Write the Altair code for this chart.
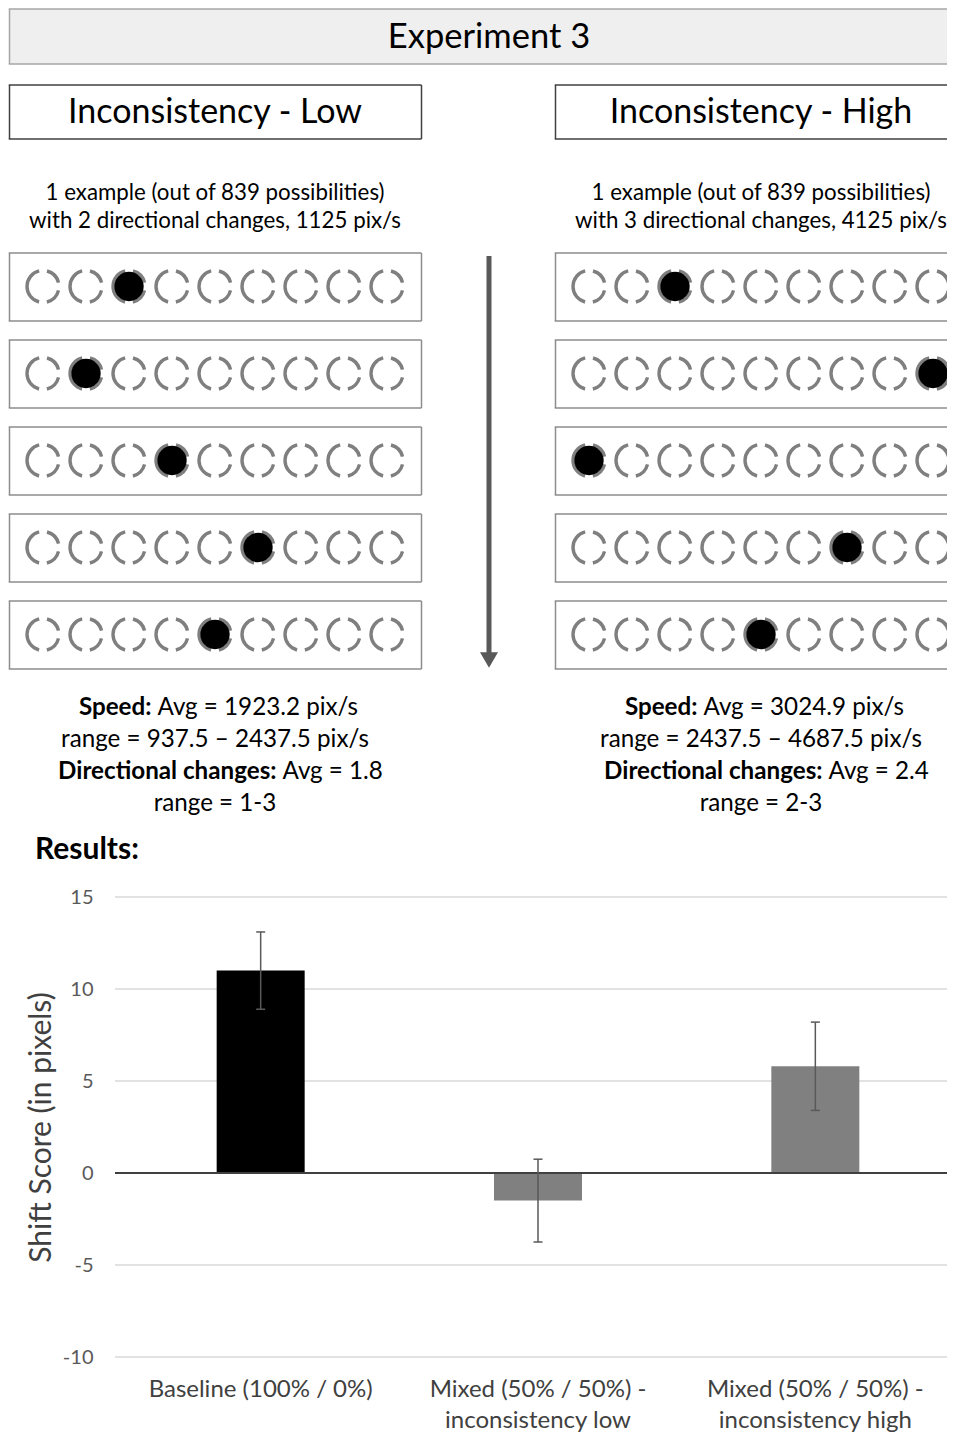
import altair as alt
import pandas as pd

# ---------------- data ----------------
header_text = "Experiment 3"
condition_titles = ["Inconsistency - Low", "Inconsistency - High"]
example_line1 = ["1 example (out of 839 possibilities)", "1 example (out of 839 possibilities)"]
example_line2 = ["with 2 directional changes, 1125 pix/s", "with 3 directional changes, 4125 pix/s"]
n_slots = 9
dot_slot_low = [2, 1, 3, 5, 4]
dot_slot_high = [2, 8, 0, 6, 4]
speed_label = "Speed:"
dir_label = "Directional changes:"
speed_avg = ["Avg = 1923.2 pix/s", "Avg = 3024.9 pix/s"]
speed_range = ["range = 937.5 \u2013 2437.5 pix/s", "range = 2437.5 \u2013 4687.5 pix/s"]
dir_avg = ["Avg = 1.8", "Avg = 2.4"]
dir_range = ["range = 1-3", "range = 2-3"]
results_label = "Results:"

categories = [
    "Baseline (100% / 0%)",
    "Mixed (50% / 50%) - inconsistency low",
    "Mixed (50% / 50%) - inconsistency high",
]
shift_mean = [11.0, -1.5, 5.8]
shift_err = [2.1, 2.25, 2.4]
bar_colors = ["#000000", "#808080", "#808080"]
y_ticks = [-10, -5, 0, 5, 10, 15]

# ---------------- layout (diagram canvas units) ----------------
FONT = "Lato"
X0, X1 = 116, 948
Y0, Y1 = 8, 878
W = X1 - X0
H_TOP = Y1 - Y0
xs = alt.Scale(domain=[X0, X1], nice=False, zero=False)
ys = alt.Scale(domain=[Y0, Y1], nice=False, zero=False, reverse=True)

panel_left = [10.5, 556.5]
panel_right = [422.5, X1]
panel_has_right = [True, False]
panel_center = [216, 762]
slot_first = [44, 590]
slot_step = 43
row_top0, row_h, row_step = 252, 68, 87
dot_slots = [dot_slot_low, dot_slot_high]

fills, borders = [], []
def add_box(x1, x2, y1, y2, fill, stroke, right=True, sw=1.5):
    fills.append(dict(x=x1, x2=x2, y=y1, y2=y2, fill=fill))
    borders.append(dict(x=x1 - sw / 2, x2=x2, y=y1, y2=y1, c=stroke, sw=sw))
    borders.append(dict(x=x1 - sw / 2, x2=x2, y=y2, y2=y2, c=stroke, sw=sw))
    borders.append(dict(x=x1, x2=x1, y=y1, y2=y2, c=stroke, sw=sw))
    if right:
        borders.append(dict(x=x2, x2=x2, y=y1, y2=y2, c=stroke, sw=sw))

add_box(10.5, X1, 8, 63, "#efefef", "#a6a6a6", right=False)
for p in range(2):
    add_box(panel_left[p], panel_right[p], 84, 138, "#ffffff", "#404040", right=panel_has_right[p])
    for r in range(5):
        yt = row_top0 + r * row_step
        add_box(panel_left[p], panel_right[p], yt, yt + row_h, "#ffffff", "#8c8c8c", right=panel_has_right[p])

circ, dots = [], []
for p in range(2):
    for r in range(5):
        yc = row_top0 + r * row_step + row_h / 2 - 0.5
        for s in range(n_slots):
            circ.append(dict(x=slot_first[p] + s * slot_step, y=yc, panel=p))
        dots.append(dict(x=slot_first[p] + dot_slots[p][r] * slot_step, y=yc, panel=p))
df_circ = pd.DataFrame(circ)
df_dots = pd.DataFrame(dots)

X = lambda f: alt.X(f, type="quantitative", scale=xs, axis=None)
Y = lambda f: alt.Y(f, type="quantitative", scale=ys, axis=None)

fill_layer = alt.Chart(pd.DataFrame(fills)).mark_rect().encode(
    x=X("x"), x2="x2", y=Y("y"), y2="y2", color=alt.Color("fill:N", scale=None)
)
border_layer = alt.Chart(pd.DataFrame(borders)).mark_rule(strokeCap="butt").encode(
    x=X("x"), x2="x2", y=Y("y"), y2="y2",
    color=alt.Color("c:N", scale=None),
    strokeWidth=alt.StrokeWidth("sw:Q", scale=None),
)

def circles(df, clip):
    return alt.Chart(df).mark_point(
        shape="circle", filled=False, size=1024, strokeWidth=3.4, color="#7f7f7f",
        opacity=1, strokeDash=[17, 8, 42, 8, 17, 8], strokeDashOffset=96, clip=clip,
    ).encode(x=X("x"), y=Y("y"))

def filled_dots(df, clip):
    return alt.Chart(df).mark_point(
        shape="circle", filled=True, size=860, color="#000000", opacity=1, clip=clip,
    ).encode(x=X("x"), y=Y("y"))

circ_left = circles(df_circ[df_circ.panel == 0], False)
circ_right = circles(df_circ[df_circ.panel == 1], True)
dot_left = filled_dots(df_dots[df_dots.panel == 0], False)
dot_right = filled_dots(df_dots[df_dots.panel == 1], True)

arrow_shaft = alt.Chart(pd.DataFrame([dict(x=490, y=255, y2=652)])).mark_rule(
    color="#595959", strokeWidth=5
).encode(x=X("x"), y=Y("y"), y2="y2")
arrow_head = alt.Chart(pd.DataFrame([dict(x=490, y=659)])).mark_point(
    shape="triangle-down", filled=True, size=324, color="#595959", opacity=1
).encode(x=X("x"), y=Y("y"))

def text_layer(rows, size, weight="normal", align="center", color="#000000"):
    return alt.Chart(pd.DataFrame(rows)).mark_text(
        font=FONT, fontSize=size, fontWeight=weight, align=align, baseline="middle", color=color
    ).encode(x=X("x"), y=Y("y"), text="t:N")

t_header = text_layer([dict(x=490, y=37, t=header_text)], 34.5)
t_cond = text_layer([dict(x=panel_center[p], y=112, t=condition_titles[p]) for p in range(2)], 34)
t_desc = text_layer(
    [dict(x=panel_center[p], y=192, t=example_line1[p]) for p in range(2)]
    + [dict(x=panel_center[p], y=220, t=example_line2[p]) for p in range(2)], 22.3)

bold_end1 = [152.5, 698.5]
bold_end3 = [277.5, 823.5]
STAT = 24.2
t_bold = text_layer(
    [dict(x=bold_end1[p], y=707, t=speed_label) for p in range(2)]
    + [dict(x=bold_end3[p], y=771, t=dir_label) for p in range(2)], STAT, "bold", "right")
t_reg_left = text_layer(
    [dict(x=bold_end1[p] + 6, y=707, t=speed_avg[p]) for p in range(2)]
    + [dict(x=bold_end3[p] + 6, y=771, t=dir_avg[p]) for p in range(2)], STAT, "normal", "left")
t_reg_center = text_layer(
    [dict(x=panel_center[p], y=739, t=speed_range[p]) for p in range(2)]
    + [dict(x=panel_center[p], y=803, t=dir_range[p]) for p in range(2)], STAT)
t_results = text_layer([dict(x=36, y=849, t=results_label)], 30, "bold", "left")

top = alt.layer(
    fill_layer, border_layer, circ_left, circ_right, dot_left, dot_right,
    arrow_shaft, arrow_head,
    t_header, t_cond, t_desc, t_bold, t_reg_left, t_reg_center, t_results,
).properties(width=W, height=H_TOP)

# ---------------- bar chart ----------------
df_bar = pd.DataFrame({
    "cat": categories,
    "mean": shift_mean,
    "lo": [m - e for m, e in zip(shift_mean, shift_err)],
    "hi": [m + e for m, e in zip(shift_mean, shift_err)],
})
df_grid = pd.DataFrame({"mean": [t for t in y_ticks if t != 0]})

SHIFT = 7
x_axis = alt.Axis(
    title=None, labelAngle=0, domain=False, ticks=False, tickSize=0, grid=False,
    labelPadding=20, labelFont=FONT, labelFontSize=24, labelColor="#404040",
    labelLineHeight=31, labelLimit=400, labelOverlap=False, labelOffset=SHIFT,
    labelExpr="split(replace(datum.label, ' - ', ' -|'), '|')",
)
y_axis = alt.Axis(
    values=y_ticks, title="Shift Score (in pixels)", grid=False,
    domain=False, ticks=False, tickSize=0, labelPadding=22,
    labelFont=FONT, labelFontSize=20, labelColor="#595959",
    labelExpr="toString(datum.value)",
    titleFont=FONT, titleFontSize=30, titleFontWeight="normal", titleColor="#404040",
    titlePadding=6,
)
xsc = alt.Scale(domain=categories, paddingInner=0, paddingOuter=0)
ysc = alt.Scale(domain=[-10, 15], nice=False, zero=False)
XB = alt.X("cat:N", sort=categories, scale=xsc, axis=x_axis)
YB = lambda f: alt.Y(f, type="quantitative", scale=ysc, axis=y_axis)

grid = alt.Chart(df_grid).mark_rule(color="#d9d9d9", strokeWidth=1.5).encode(y=YB("mean"))
bars = alt.Chart(df_bar).mark_bar(width=88, xOffset=SHIFT).encode(
    x=XB,
    y=YB("mean"),
    color=alt.Color("cat:N", scale=alt.Scale(domain=categories, range=bar_colors), legend=None),
)
zero = alt.Chart(pd.DataFrame({"mean": [0]})).mark_rule(color="#404040", strokeWidth=2).encode(
    y=YB("mean")
)
err = alt.Chart(df_bar).mark_rule(color="#595959", strokeWidth=1.5, xOffset=SHIFT).encode(
    x=XB, y=YB("lo"), y2="hi:Q"
)
cap_lo = alt.Chart(df_bar).mark_tick(color="#595959", size=9, thickness=1.5, opacity=1, xOffset=SHIFT).encode(
    x=XB, y=YB("lo")
)
cap_hi = alt.Chart(df_bar).mark_tick(color="#595959", size=9, thickness=1.5, opacity=1, xOffset=SHIFT).encode(
    x=XB, y=YB("hi")
)

bottom = alt.layer(grid, bars, zero, err, cap_lo, cap_hi).properties(width=W, height=460)

chart = alt.vconcat(top, bottom, spacing=18, bounds="flush").properties(
    padding={"left": 0, "top": 0, "right": 0, "bottom": 0}
).configure_view(stroke=None)

chart.save("out.html", embed_options={"renderer": "svg", "actions": False})
